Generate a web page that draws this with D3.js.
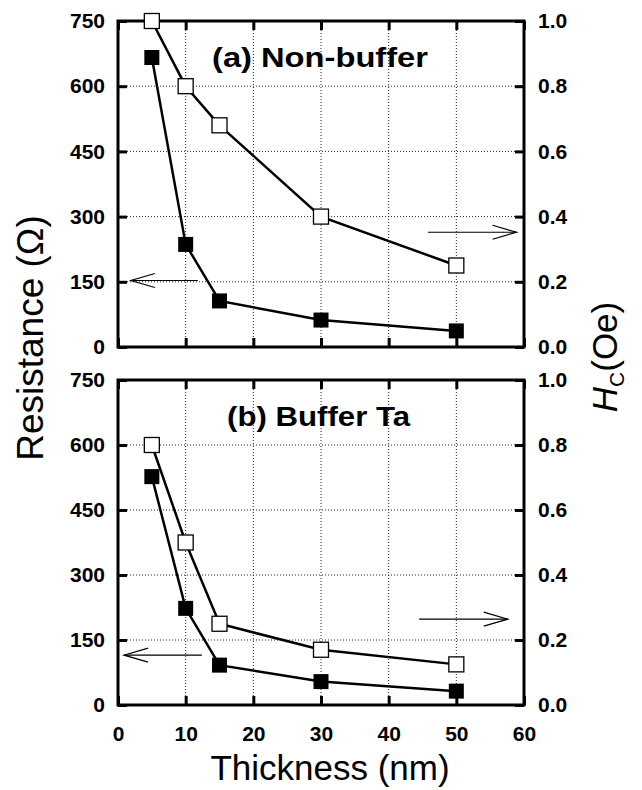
<!DOCTYPE html>
<html>
<head>
<meta charset="utf-8">
<script src="https://cdn.jsdelivr.net/npm/d3@7"></script>
<style>
  body { margin: 0; background: #fff; }
  svg { display: block; font-family: Arial, "Liberation Sans", sans-serif; }
</style>
</head>
<body>
<div id="chart"></div>
<script>
// thickness of the film (nm), same for both panels
var thickness = [5, 10, 15, 30, 50];
// (a) non-buffer
var resistanceA = [666, 236, 106, 62, 37];
var hcA = [1.0, 0.80, 0.68, 0.40, 0.25];
// (b) buffer Ta
var resistanceB = [527, 223, 92, 54, 32];
var hcB = [0.80, 0.50, 0.25, 0.17, 0.125];

// tick labels
var xTicks = [0, 10, 20, 30, 40, 50, 60];
var resTicks = [0, 150, 300, 450, 600, 750];
var hcTicks = [0, 0.2, 0.4, 0.6, 0.8, 1.0];

// panel titles
var panelTitles = ["(a) Non-buffer", "(b) Buffer Ta"];

// arrows [x from, x to, value] : left arrows point to resistance, right ones to Hc
var arrowsRes = [[11.8, 1.9, 153], [12.4, 0.9, 115]];
var arrowsHc = [[45.8, 58.9, 0.352], [44.5, 57.6, 0.264]];

var W = 642, H = 790;
var left = 118, right = 524;
var panels = [
  { top: 21, bottom: 347 },
  { top: 380, bottom: 705 }
];

var svg = d3.select("#chart")
  .append("svg")
  .attr("width", W)
  .attr("height", H);

svg.append("rect").attr("width", W).attr("height", H).attr("fill", "#fff");

var x = d3.scaleLinear().domain([0, 60]).range([left, right]);

//*** draw one panel ***//
function drawPanel(i, resData, hcData) {
  var p = panels[i];
  var yRes = d3.scaleLinear().domain([0, 750]).range([p.bottom, p.top]);
  var yHc = d3.scaleLinear().domain([0, 1]).range([p.bottom, p.top]);

  var g = svg.append("g");

  // dotted grid
  g.selectAll(".hgrid")
    .data(resTicks.slice(1, -1))
    .enter().append("line")
    .attr("x1", left).attr("x2", right)
    .attr("y1", function(d) { return yRes(d); })
    .attr("y2", function(d) { return yRes(d); })
    .attr("stroke", "#222").attr("stroke-width", 1)
    .attr("stroke-dasharray", "1,2");

  g.selectAll(".vgrid")
    .data(xTicks.slice(1, -1))
    .enter().append("line")
    .attr("y1", p.top).attr("y2", p.bottom)
    .attr("x1", function(d) { return x(d); })
    .attr("x2", function(d) { return x(d); })
    .attr("stroke", "#222").attr("stroke-width", 1)
    .attr("stroke-dasharray", "1,2");

  // axes with inward ticks
  var axL = g.append("g").attr("transform", "translate(" + left + ",0)")
    .call(d3.axisLeft(yRes).tickValues(resTicks).tickSize(-9).tickPadding(13));
  var axR = g.append("g").attr("transform", "translate(" + right + ",0)")
    .call(d3.axisRight(yHc).tickValues(hcTicks).tickSize(-9).tickPadding(14)
      .tickFormat(d3.format(".1f")));
  var axT = g.append("g").attr("transform", "translate(0," + p.top + ")")
    .call(d3.axisTop(x).tickValues(xTicks).tickSize(-9).tickFormat(""));
  var axB = g.append("g").attr("transform", "translate(0," + p.bottom + ")")
    .call(d3.axisBottom(x).tickValues(xTicks).tickSize(-9).tickPadding(21)
      .tickFormat(i === 1 ? d3.format("d") : ""));

  [axL, axR, axT, axB].forEach(function(a) {
    a.select(".domain").remove();
    a.selectAll(".tick line").attr("stroke", "#000").attr("stroke-width", 3);
    a.selectAll("text")
      .attr("fill", "#000")
      .attr("font-size", 21)
      .attr("font-weight", "bold")
      .attr("font-family", "Arial, 'Liberation Sans', sans-serif");
  });

  // frame
  g.append("rect")
    .attr("x", left).attr("y", p.top)
    .attr("width", right - left).attr("height", p.bottom - p.top)
    .attr("fill", "none").attr("stroke", "#000").attr("stroke-width", 3);

  // panel title
  g.append("text")
    .attr("x", i === 0 ? 212 : 227)
    .attr("y", p.top + 46)
    .attr("font-size", 28)
    .attr("font-weight", "bold")
    .attr("textLength", i === 0 ? 216 : 183)
    .attr("lengthAdjust", "spacingAndGlyphs")
    .text(panelTitles[i]);

  // arrows
  drawArrow(g, x(arrowsRes[i][0]), x(arrowsRes[i][1]), yRes(arrowsRes[i][2]));
  drawArrow(g, x(arrowsHc[i][0]), x(arrowsHc[i][1]), yHc(arrowsHc[i][2]));

  // lines
  var lineRes = d3.line()
    .x(function(d, j) { return x(thickness[j]); })
    .y(function(d) { return yRes(d); });
  var lineHc = d3.line()
    .x(function(d, j) { return x(thickness[j]); })
    .y(function(d) { return yHc(d); });

  g.append("path").datum(resData).attr("d", lineRes)
    .attr("fill", "none").attr("stroke", "#000").attr("stroke-width", 2.5);
  g.append("path").datum(hcData).attr("d", lineHc)
    .attr("fill", "none").attr("stroke", "#000").attr("stroke-width", 2.5);

  var s = 15;
  g.selectAll(".filled")
    .data(resData)
    .enter().append("rect")
    .attr("x", function(d, j) { return x(thickness[j]) - s / 2; })
    .attr("y", function(d) { return yRes(d) - s / 2; })
    .attr("width", s).attr("height", s)
    .attr("fill", "#000");

  g.selectAll(".open")
    .data(hcData)
    .enter().append("rect")
    .attr("x", function(d, j) { return x(thickness[j]) - s / 2; })
    .attr("y", function(d) { return yHc(d) - s / 2; })
    .attr("width", s).attr("height", s)
    .attr("fill", "#fff").attr("stroke", "#000").attr("stroke-width", 1.3);
}

// thin arrow with open V head, pointing from x1 to x2
function drawArrow(g, x1, x2, y) {
  var dir = x2 > x1 ? 1 : -1;
  var hl = 24, hw = 7;
  g.append("line")
    .attr("x1", x1).attr("x2", x2).attr("y1", y).attr("y2", y)
    .attr("stroke", "#000").attr("stroke-width", 1.2);
  g.append("path")
    .attr("d", "M" + (x2 - dir * hl) + "," + (y - hw) + "L" + x2 + "," + y +
      "L" + (x2 - dir * hl) + "," + (y + hw))
    .attr("fill", "none").attr("stroke", "#000").attr("stroke-width", 1.2);
}

drawPanel(0, resistanceA, hcA);
drawPanel(1, resistanceB, hcB);

// axis titles
svg.append("text")
  .attr("transform", "translate(43,338) rotate(-90)")
  .attr("text-anchor", "middle")
  .attr("font-size", 37)
  .text("Resistance (\u03A9)");

var hc = svg.append("text")
  .attr("transform", "translate(617,357) rotate(-90)")
  .attr("text-anchor", "middle")
  .attr("font-size", 35);
hc.append("tspan").attr("font-style", "italic").text("H");
hc.append("tspan").attr("font-size", 21).attr("dy", 7).text("C");
hc.append("tspan").attr("dy", -7).text("(Oe)");

svg.append("text")
  .attr("x", 330).attr("y", 780)
  .attr("text-anchor", "middle")
  .attr("font-size", 35)
  .text("Thickness (nm)");
</script>
</body>
</html>
